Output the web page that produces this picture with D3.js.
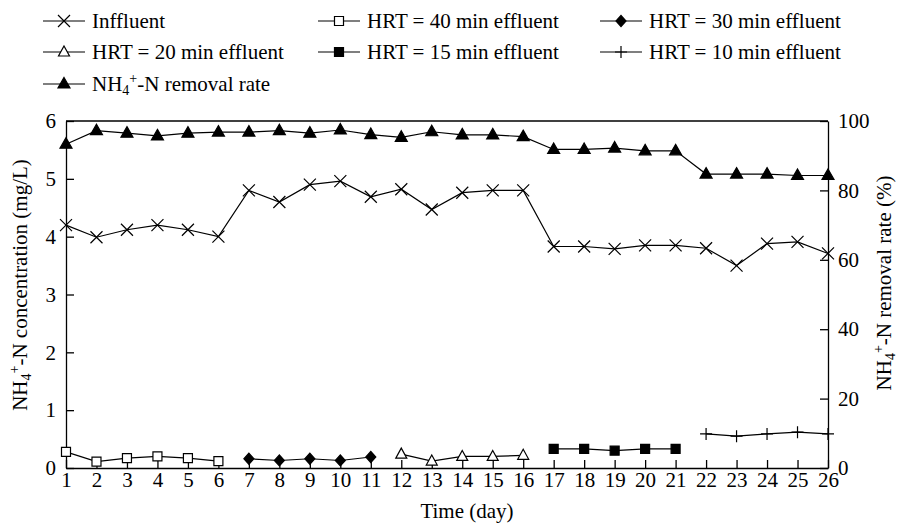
<!DOCTYPE html>
<html>
<head>
<meta charset="utf-8">
<script src="https://cdn.jsdelivr.net/npm/d3@7"></script>
<style>
  body { margin: 0; background: #fff; }
  svg text { font-family: "Liberation Serif", "Times New Roman", serif; }
</style>
</head>
<body>
<svg></svg>
<script>
const size = {w: 898, h: 526};
const plot = {l: 66, r: 828, t: 121, b: 468};

const days = [1,2,3,4,5,6,7,8,9,10,11,12,13,14,15,16,17,18,19,20,21,22,23,24,25,26];
const influent = [4.20,3.99,4.12,4.20,4.12,4.00,4.80,4.60,4.90,4.96,4.69,4.82,4.47,
                  4.76,4.80,4.80,3.83,3.83,3.79,3.85,3.85,3.80,3.50,3.88,3.91,3.71];
const removal = [93.3,97.2,96.5,95.7,96.5,96.8,96.8,97.2,96.5,97.4,96.1,95.3,96.9,
                 96.0,96.0,95.5,91.8,91.8,92.2,91.4,91.4,84.7,84.7,84.7,84.3,84.3];
const hrt40Days = [1,2,3,4,5,6];
const hrt40 = [0.28,0.11,0.17,0.20,0.17,0.12];
const hrt30Days = [7,8,9,10,11];
const hrt30 = [0.16,0.13,0.16,0.13,0.19];
const hrt20Days = [12,13,14,15,16];
const hrt20 = [0.24,0.12,0.20,0.20,0.22];
const hrt15Days = [17,18,19,20,21];
const hrt15 = [0.33,0.33,0.30,0.33,0.33];
const hrt10Days = [22,23,24,25,26];
const hrt10 = [0.59,0.55,0.59,0.62,0.59];
const leftTicks = [0,1,2,3,4,5,6];
const rightTicks = [0,20,40,60,80,100];

const svg = d3.select('svg').attr('width', size.w).attr('height', size.h);

const x = d3.scaleLinear().domain([1, 26]).range([plot.l, plot.r]);
const yL = d3.scaleLinear().domain([0, 6]).range([plot.b, plot.t]);
const yR = d3.scaleLinear().domain([0, 100]).range([plot.b, plot.t]);

// marker shapes
const markers = {
    cross:   {d: 'M-6,-6L6,6M-6,6L6,-6', fill: 'none'},
    sqOpen:  {d: 'M-4.5,-4.5H4.5V4.5H-4.5Z', fill: '#fff'},
    diamond: {d: 'M0,-5.5L5,0L0,5.5L-5,0Z', fill: '#000'},
    triOpen: {d: 'M0,-6L5.5,4L-5.5,4Z', fill: '#fff'},
    sqFill:  {d: 'M-4.5,-4.5H4.5V4.5H-4.5Z', fill: '#000'},
    plus:    {d: 'M-6,0H6M0,-6V6', fill: 'none'},
    triFill: {d: 'M0,-6.5L6,4L-6,4Z', fill: '#000'}
};

function drawMarker(g, type, cx, cy) {
    g.append('path')
        .attr('d', markers[type].d)
        .attr('transform', `translate(${cx},${cy})`)
        .attr('fill', markers[type].fill)
        .attr('stroke', '#000')
        .attr('stroke-width', 1.2);
}

// axes
const axisG = svg.append('g');
const fmt = d3.format('d');

axisG.append('g')
    .attr('transform', `translate(0,${plot.b})`)
    .call(d3.axisBottom(x).tickValues(days).tickFormat(fmt)
        .tickSizeInner(-8).tickSizeOuter(0).tickPadding(4));

axisG.append('g')
    .attr('transform', `translate(${plot.l},0)`)
    .call(d3.axisLeft(yL).tickValues(leftTicks).tickFormat(fmt)
        .tickSizeInner(-8).tickSizeOuter(0).tickPadding(10));

axisG.append('g')
    .attr('transform', `translate(${plot.r},0)`)
    .call(d3.axisRight(yR).tickValues(rightTicks).tickFormat(fmt)
        .tickSizeInner(-8).tickSizeOuter(0).tickPadding(10));

axisG.selectAll('g').attr('font-family', null).attr('font-size', null);
axisG.selectAll('text').attr('fill', '#000').style('font-size', '21px');
axisG.selectAll('path, line').attr('stroke', '#000').attr('stroke-width', 1.3);

// top border
svg.append('line')
    .attr('x1', plot.l).attr('x2', plot.r)
    .attr('y1', plot.t).attr('y2', plot.t)
    .attr('stroke', '#000').attr('stroke-width', 1.3);

// series
const series = [
    {days: days, vals: influent, y: yL, marker: 'cross'},
    {days: days, vals: removal, y: yR, marker: 'triFill'},
    {days: hrt40Days, vals: hrt40, y: yL, marker: 'sqOpen'},
    {days: hrt30Days, vals: hrt30, y: yL, marker: 'diamond'},
    {days: hrt20Days, vals: hrt20, y: yL, marker: 'triOpen'},
    {days: hrt15Days, vals: hrt15, y: yL, marker: 'sqFill'},
    {days: hrt10Days, vals: hrt10, y: yL, marker: 'plus'}
];

const dataG = svg.append('g');
series.forEach(s => {
    const pts = s.days.map((d, i) => [x(d), s.y(s.vals[i])]);
    dataG.append('path')
        .attr('d', d3.line()(pts))
        .attr('fill', 'none')
        .attr('stroke', '#000')
        .attr('stroke-width', 1.2);
    pts.forEach(p => drawMarker(dataG, s.marker, p[0], p[1]));
});

// axis titles
svg.append('text')
    .attr('x', 467)
    .attr('y', 518)
    .attr('text-anchor', 'middle')
    .style('font-size', '21px')
    .text('Time (day)');

function nhLabel(sel, rest) {
    sel.append('tspan').text('NH');
    sel.append('tspan').attr('dy', 4).style('font-size', '14px').text('4');
    sel.append('tspan').attr('dy', -12).style('font-size', '14px').text('+');
    sel.append('tspan').attr('dy', 8).text(rest);
}

svg.append('text')
    .attr('transform', `translate(27,285) rotate(-90)`)
    .attr('text-anchor', 'middle')
    .style('font-size', '21px')
    .call(nhLabel, '-N concentration (mg/L)');

svg.append('text')
    .attr('transform', `translate(891,283) rotate(-90)`)
    .attr('text-anchor', 'middle')
    .style('font-size', '21px')
    .call(nhLabel, '-N removal rate (%)');

// legend
const legendItems = [
    {marker: 'cross',   label: 'Inffluent', col: 0, row: 0},
    {marker: 'sqOpen',  label: 'HRT = 40 min effluent', col: 1, row: 0},
    {marker: 'diamond', label: 'HRT = 30 min effluent', col: 2, row: 0},
    {marker: 'triOpen', label: 'HRT = 20 min effluent', col: 0, row: 1},
    {marker: 'sqFill',  label: 'HRT = 15 min effluent', col: 1, row: 1},
    {marker: 'plus',    label: 'HRT = 10 min effluent', col: 2, row: 1},
    {marker: 'triFill', label: null, col: 0, row: 2}
];
const colX = [43, 318, 600];
const rowY = [21, 52, 84];

const legendG = svg.append('g');
legendItems.forEach(it => {
    const lx = colX[it.col], ly = rowY[it.row];
    legendG.append('line')
        .attr('x1', lx).attr('x2', lx + 42)
        .attr('y1', ly).attr('y2', ly)
        .attr('stroke', '#000').attr('stroke-width', 1.2);
    drawMarker(legendG, it.marker, lx + 21, ly);
    const t = legendG.append('text')
        .attr('x', lx + 49).attr('y', ly + 7)
        .style('font-size', '21px');
    if (it.label) t.text(it.label);
    else t.call(nhLabel, '-N removal rate');
});
</script>
</body>
</html>
